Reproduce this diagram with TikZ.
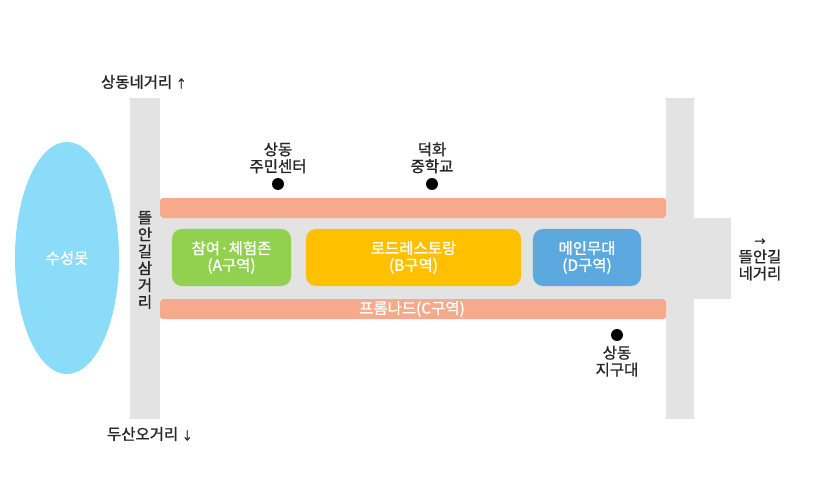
\documentclass[tikz,border=0pt]{standalone}
\usepackage{fontspec}
\setmainfont{Noto Sans CJK KR}[FakeBold=1.2]
\usetikzlibrary{positioning,shapes.geometric}
\definecolor{roadgray}{HTML}{E3E3E3}
\definecolor{salmon}{HTML}{F7A98B}
\definecolor{zonegreen}{HTML}{92D050}
\definecolor{zoneyellow}{HTML}{FFC000}
\definecolor{zoneblue}{HTML}{5BA9DE}
\definecolor{pondblue}{HTML}{8ADCF8}
\definecolor{labelgray}{HTML}{262626}
\def\smallarrow#1{{\fontsize{8}{8}\selectfont #1}}
\tikzset{
	road/.style={fill=roadgray, draw=none},
	strip/.style={fill=salmon, draw=none, rounded corners=2pt},
	zone/.style={draw=none, rounded corners=7pt, text=white, align=center, font=\fontsize{11}{12}\selectfont, inner sep=0pt},
	place/.style={text=labelgray, align=center, font=\fontsize{11}{12}\selectfont, inner sep=0pt},
	spot/.style={circle, fill=black, minimum size=8.5pt, inner sep=0pt}
}
\begin{document}
\begin{tikzpicture}[x=0.025cm, y=-0.025cm]
	\useasboundingbox (0, 0) rectangle (813, 492);
	%%%%% ROADS %%%%%
	\fill[road] (130, 98) rectangle (160, 419);
	\fill[road] (666, 98) rectangle (694, 419);
	\fill[road] (160, 218) rectangle (731, 299);
	%%%%% PROMENADE %%%%%
	\fill[strip] (160, 198) rectangle (666, 218);
	\fill[strip] (160, 299) rectangle (666, 319);
	\node[zone] (promenade) at (412, 309) {프롬나드(C구역)};
	%%%%% ZONES %%%%%
	\node[zone, fill=zonegreen, minimum width=2.975cm, minimum height=1.425cm] (zoneA) at (231.5, 257.5) {참여·체험존\\(A구역)};
	\node[zone, fill=zoneyellow, minimum width=5.375cm, minimum height=1.425cm] (zoneB) at (413.5, 257.5) {로드레스토랑\\(B구역)};
	\node[zone, fill=zoneblue, minimum width=2.7cm, minimum height=1.425cm] (zoneD) at (587, 257.5) {메인무대\\(D구역)};
	%%%%% POND %%%%%
	\node[ellipse, fill=pondblue, text=white, minimum width=2.6cm, minimum height=5.8cm, inner sep=0pt, font=\fontsize{11}{12}\selectfont] (pond) at (67, 258) {수성못};
	%%%%% PLACES %%%%%
	\node[spot] (spotCenter) at (278, 184) {};
	\node[place, above=3pt of spotCenter] (center) {상동\\주민센터};
	\node[spot] (spotSchool) at (432, 184) {};
	\node[place, above=3pt of spotSchool] (school) {덕화\\중학교};
	\node[spot] (spotPolice) at (617, 335) {};
	\node[place, below=3pt of spotPolice] (police) {상동\\지구대};
	%%%%% ROAD NAMES %%%%%
	\node[place] (north) at (144, 82) {상동네거리 \smallarrow{↑}};
	\node[place] (south) at (150, 434) {두산오거리 \smallarrow{↓}};
	\node[place] (west) at (145, 260) {뜰\\안\\길\\삼\\거\\리};
	\node[place] (east) at (760, 259.5) {\smallarrow{→}\\뜰안길\\네거리};
\end{tikzpicture}
\end{document}
